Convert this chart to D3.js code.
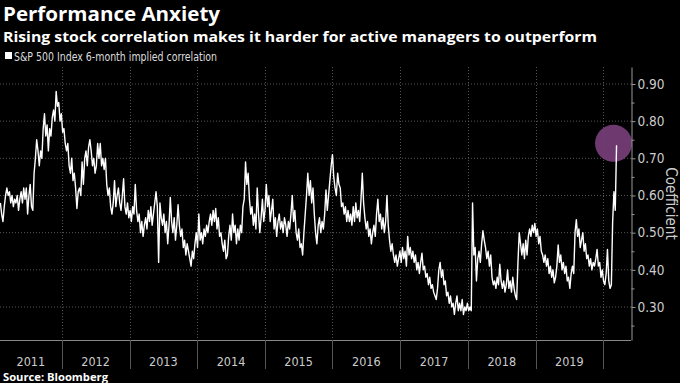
<!DOCTYPE html>
<html>
<head>
<meta charset="utf-8">
<script src="https://cdn.jsdelivr.net/npm/d3@7"></script>
<style>
html,body{margin:0;padding:0;background:#000;}
svg{display:block;}
</style>
</head>
<body>
<div id="chart"></div>
<script>
// ---- Data ----
const title = "Performance Anxiety";
const subtitle = "Rising stock correlation makes it harder for active managers to outperform";
const seriesName = "S&P 500 Index 6-month implied correlation";
const source = "Source: Bloomberg";
const axisTitle = "Coefficient";
const startDate = "2011-02-04"; // weekly observations
const values = [
0.58,0.55,0.53,0.57,0.60,0.62,0.60,0.61,0.58,0.60,
0.57,0.59,0.58,0.60,0.56,0.59,0.61,0.58,0.62,0.59,
0.62,0.55,0.60,0.63,0.57,0.56,0.66,0.70,0.75,0.72,
0.68,0.72,0.70,0.78,0.82,0.76,0.79,0.72,0.78,0.76,
0.81,0.83,0.80,0.88,0.84,0.85,0.80,0.82,0.77,0.78,
0.74,0.72,0.74,0.68,0.66,0.70,0.64,0.66,0.62,0.565,
0.61,0.62,0.60,0.69,0.63,0.70,0.72,0.68,0.73,0.75,
0.72,0.68,0.70,0.66,0.68,0.74,0.70,0.74,0.68,0.70,
0.67,0.70,0.63,0.60,0.62,0.57,0.55,0.58,0.64,0.57,
0.60,0.62,0.58,0.56,0.60,0.645,0.57,0.55,0.58,0.54,
0.56,0.53,0.57,0.55,0.63,0.56,0.53,0.55,0.50,0.53,
0.49,0.52,0.54,0.51,0.56,0.53,0.57,0.52,0.55,0.58,
0.61,0.57,0.42,0.58,0.54,0.52,0.55,0.50,0.53,0.47,
0.52,0.595,0.53,0.50,0.54,0.48,0.52,0.575,0.52,0.49,
0.51,0.46,0.48,0.44,0.47,0.45,0.43,0.41,0.45,0.43,
0.47,0.50,0.46,0.55,0.48,0.50,0.47,0.51,0.49,0.52,
0.50,0.53,0.55,0.52,0.56,0.53,0.565,0.51,0.54,0.49,
0.50,0.47,0.45,0.48,0.43,0.44,0.49,0.52,0.48,0.55,
0.50,0.52,0.47,0.51,0.48,0.52,0.50,0.57,0.59,0.69,
0.63,0.66,0.59,0.55,0.57,0.52,0.55,0.51,0.62,0.55,
0.50,0.54,0.59,0.53,0.56,0.63,0.57,0.60,0.53,0.56,
0.59,0.51,0.54,0.49,0.53,0.55,0.51,0.53,0.50,0.54,
0.52,0.49,0.53,0.51,0.55,0.60,0.53,0.56,0.50,0.48,
0.51,0.46,0.47,0.44,0.50,0.55,0.60,0.66,0.60,0.64,
0.58,0.62,0.55,0.50,0.47,0.52,0.54,0.50,0.53,0.51,
0.55,0.615,0.56,0.60,0.64,0.68,0.71,0.65,0.62,0.60,
0.66,0.63,0.62,0.57,0.58,0.55,0.57,0.53,0.56,0.53,
0.55,0.52,0.57,0.53,0.58,0.54,0.56,0.53,0.59,0.66,
0.58,0.54,0.51,0.53,0.49,0.51,0.47,0.50,0.52,0.49,
0.55,0.59,0.53,0.55,0.51,0.54,0.50,0.53,0.60,0.52,
0.48,0.45,0.47,0.44,0.42,0.44,0.41,0.43,0.45,0.42,
0.46,0.43,0.45,0.41,0.49,0.44,0.46,0.43,0.45,0.42,
0.44,0.40,0.42,0.39,0.42,0.445,0.40,0.41,0.38,0.39,
0.36,0.38,0.35,0.36,0.34,0.33,0.32,0.35,0.40,0.42,
0.38,0.40,0.36,0.37,0.33,0.34,0.31,0.33,0.30,0.31,
0.28,0.31,0.33,0.29,0.31,0.29,0.32,0.28,0.30,0.29,
0.31,0.29,0.30,0.29,0.58,0.44,0.46,0.37,0.43,0.45,
0.42,0.47,0.505,0.48,0.46,0.43,0.45,0.41,0.44,0.38,
0.36,0.37,0.35,0.38,0.36,0.415,0.37,0.35,0.37,0.34,
0.36,0.40,0.35,0.37,0.34,0.38,0.35,0.33,0.32,0.42,
0.50,0.47,0.44,0.47,0.43,0.48,0.44,0.49,0.51,0.49,
0.52,0.50,0.525,0.49,0.51,0.47,0.49,0.45,0.44,0.42,
0.44,0.41,0.43,0.39,0.41,0.38,0.40,0.365,0.38,0.41,
0.467,0.42,0.44,0.40,0.42,0.39,0.41,0.37,0.38,0.35,
0.39,0.41,0.39,0.50,0.535,0.49,0.51,0.46,0.48,0.50,
0.45,0.47,0.43,0.44,0.41,0.43,0.40,0.42,0.41,0.43,
0.455,0.41,0.42,0.38,0.40,0.37,0.36,0.39,0.455,0.37,
0.35,0.36,0.53,0.61,0.56,0.735
];
const years = [2011,2012,2013,2014,2015,2016,2017,2018,2019];
const yTicks = [0.30,0.40,0.50,0.60,0.70,0.80,0.90];
const yMinorTicks = [0.25,0.35,0.45,0.55,0.65,0.75,0.85];

// ---- Build ----
const W = 680, H = 383;
const parse = d3.timeParse("%Y-%m-%d");
const start = parse(startDate);
const data = values.map((v, i) => ({date: d3.timeDay.offset(start, 7 * i), value: v}));

const plotL = 0, plotR = 631, plotT = 67, plotB = 340;
const x = d3.scaleTime().domain([new Date(2011, 1, 2), new Date(2020, 4, 30)]).range([plotL, plotR]);
const y = d3.scaleLinear().domain([0.2112, 0.9457]).range([plotB, plotT]);

const svg = d3.select("#chart").append("svg").attr("width", W).attr("height", H)
  .style("background", "#000");

const condensed = "'Liberation Sans Narrow','DejaVu Sans Condensed','Roboto Condensed',sans-serif";
const bold = "'Open Sans','DejaVu Sans',sans-serif";

// Titles
svg.append("text").attr("x", 3).attr("y", 21).text(title)
  .attr("fill", "#fff").attr("font-family", bold).attr("font-weight", 700).attr("font-size", 19.5)
  .attr("textLength", 217).attr("lengthAdjust", "spacingAndGlyphs");
svg.append("text").attr("x", 3).attr("y", 42).text(subtitle)
  .attr("fill", "#fff").attr("font-family", bold).attr("font-weight", 700).attr("font-size", 14)
  .attr("textLength", 594).attr("lengthAdjust", "spacingAndGlyphs");

// Legend
svg.append("rect").attr("x", 5).attr("y", 52).attr("width", 7).attr("height", 7).attr("fill", "#fff");
svg.append("text").attr("x", 14).attr("y", 60.5).text(seriesName)
  .attr("fill", "#ddd").attr("font-family", condensed).attr("font-size", 11.5)
  .attr("textLength", 203).attr("lengthAdjust", "spacingAndGlyphs");

// Grid
const grid = svg.append("g");
grid.selectAll("line.h").data(yTicks).join("line").attr("class", "h")
  .attr("x1", plotL).attr("x2", plotR).attr("y1", d => y(d)).attr("y2", d => y(d))
  .attr("stroke", "#555").attr("stroke-width", 1).attr("stroke-dasharray", "1,2");
const yearBounds = years.slice(1).concat([2020]).map(yr => new Date(yr, 0, 1));
grid.selectAll("line.v").data(yearBounds).join("line").attr("class", "v")
  .attr("x1", d => Math.round(x(d)) + 0.5).attr("x2", d => Math.round(x(d)) + 0.5)
  .attr("y1", plotT).attr("y2", plotB)
  .attr("stroke", "#555").attr("stroke-width", 1).attr("stroke-dasharray", "1,2");

// Highlight circle at latest value
const last = data[data.length - 1];
svg.append("circle").attr("cx", x(last.date) - 3).attr("cy", y(last.value) - 2).attr("r", 18.5)
  .attr("fill", "#7a3f7b").attr("opacity", 0.9);

// Line
const line = d3.line().x(d => x(d.date)).y(d => y(d.value));
svg.append("path").datum(data).attr("d", line)
  .attr("fill", "none").attr("stroke", "#fff").attr("stroke-width", 1.4).attr("stroke-linejoin", "round");

// Bottom axis line and separators
svg.append("line").attr("x1", plotL).attr("x2", plotR).attr("y1", plotB + 0.5).attr("y2", plotB + 0.5)
  .attr("stroke", "#888");
svg.selectAll("line.sep").data(yearBounds).join("line").attr("class", "sep")
  .attr("x1", d => Math.round(x(d)) + 0.5).attr("x2", d => Math.round(x(d)) + 0.5)
  .attr("y1", plotB).attr("y2", 369).attr("stroke", "#555");
svg.selectAll("text.year").data(years).join("text").attr("class", "year")
  .attr("x", yr => (Math.max(plotL, x(new Date(yr, 0, 1))) + x(new Date(yr + 1, 0, 1))) / 2)
  .attr("y", 366).attr("text-anchor", "middle").text(d => d)
  .attr("fill", "#ccc").attr("font-family", condensed).attr("font-size", 12.5);

// Right axis
const axisMajor = d3.axisRight(y).tickValues(yTicks).tickFormat(d3.format(".2f")).tickSize(4).tickSizeOuter(0).tickPadding(2);
const gA = svg.append("g").attr("transform", `translate(${plotR + 0.5},0)`).call(axisMajor);
gA.select(".domain").attr("stroke", "#999");
gA.selectAll(".tick line").attr("stroke", "#999");
gA.selectAll(".tick text").attr("fill", "#ccc").attr("font-family", condensed).attr("font-size", 13.5);
const axisMinor = d3.axisRight(y).tickValues(yMinorTicks).tickFormat("").tickSize(3).tickSizeOuter(0);
const gM = svg.append("g").attr("transform", `translate(${plotR + 0.5},0)`).call(axisMinor);
gM.select(".domain").remove();
gM.selectAll(".tick line").attr("stroke", "#999");

svg.append("text").attr("transform", `translate(666,${(plotT + plotB) / 2}) rotate(90)`)
  .attr("text-anchor", "middle").text(axisTitle)
  .attr("fill", "#ccc").attr("font-family", condensed).attr("font-size", 15);

// Source
svg.append("text").attr("x", 3).attr("y", 381).text(source)
  .attr("fill", "#fff").attr("font-family", bold).attr("font-weight", 700).attr("font-size", 10.5)
  .attr("textLength", 105).attr("lengthAdjust", "spacingAndGlyphs");
</script>
</body>
</html>
